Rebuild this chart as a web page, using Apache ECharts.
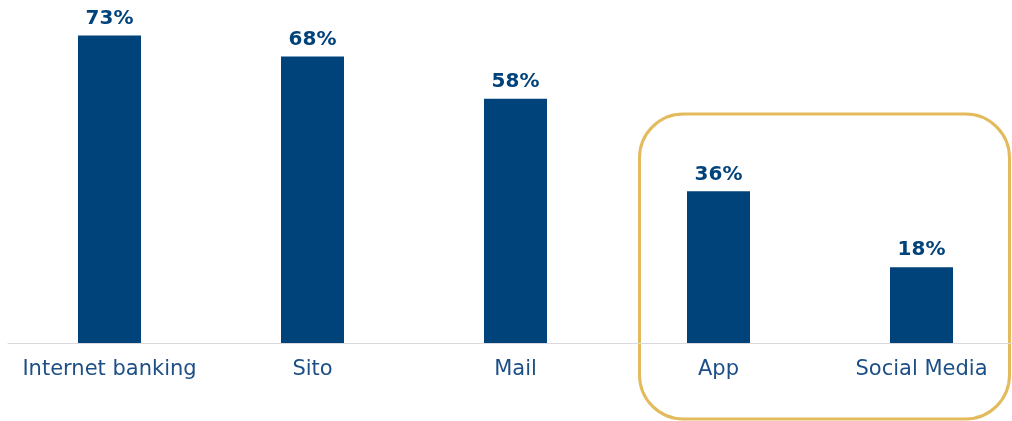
<!DOCTYPE html>
<html>
<head>
<meta charset="utf-8">
<script src="https://cdn.jsdelivr.net/npm/echarts@6/dist/echarts.min.js"></script>
<style>html,body{margin:0;padding:0;background:#fff;}#c{width:1012px;height:421px;}</style>
</head>
<body>
<div id="c"></div>
<script>
const categories = ['Internet banking', 'Sito', 'Mail', 'App', 'Social Media'];
const values = [73, 68, 58, 36, 18];

const chart = echarts.init(document.getElementById('c'), null, {renderer: 'canvas'});
chart.setOption({
  animation: false,
  backgroundColor: '#ffffff',
  grid: {left: 8, width: 1015, top: 6, bottom: 78, containLabel: false, outerBoundsMode: 'none'},
  xAxis: {
    type: 'category',
    data: categories,
    axisLine: {show: true, lineStyle: {color: '#d9d9de', width: 1}},
    axisTick: {show: false},
    axisLabel: {interval: 0, hideOverlap: false, color: '#1d4f86', fontFamily: 'DejaVu Sans', fontSize: 21, margin: 16}
  },
  yAxis: {
    type: 'value', min: 0, max: 80,
    show: false, splitLine: {show: false}
  },
  series: [{
    type: 'bar',
    data: values,
    barWidth: 63,
    itemStyle: {color: '#00427a'},
    label: {
      show: true, position: 'top', distance: 7,
      formatter: p => p.value + '%',
      color: '#00427a', fontFamily: 'DejaVu Sans', fontWeight: 'bold', fontSize: 20
    }
  }],
  graphic: [{
    type: 'rect',
    shape: {x: 639.5, y: 114, width: 370, height: 305, r: 44},
    style: {fill: 'none', stroke: '#e3bb5c', lineWidth: 3},
    silent: true
  }]
});
</script>
</body>
</html>
